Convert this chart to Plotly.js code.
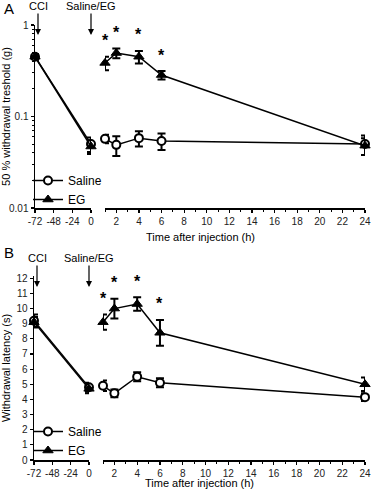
<!DOCTYPE html>
<html>
<head>
<meta charset="utf-8">
<script src="https://cdn.plot.ly/plotly-3.0.1.min.js"></script>
<style>html,body{margin:0;padding:0;background:#fff;}#chart{width:373px;height:499px;}</style>
</head>
<body>
<div id="chart"></div>
<script>
// ---- data ----
const times = [-72, 0, 1, 2, 4, 6, 24];
const salineA = [0.45, 0.050, 0.057, 0.049, 0.058, 0.054, 0.050];
const salineAErr = [0.03, 0.009, 0.006, 0.012, 0.011, 0.011, 0.012];
const egA = [0.45, 0.047, 0.385, 0.494, 0.45, 0.284, 0.048];
const egAErr = [0.03, 0.008, 0.065, 0.06, 0.07, 0.03, 0.01];
const salineB = [9.2, 4.8, 4.9, 4.4, 5.5, 5.1, 4.15];
const salineBErr = [0.4, 0.3, 0.35, 0.25, 0.3, 0.3, 0.25];
const egB = [9.1, 4.7, 9.1, 10.0, 10.3, 8.4, 5.0];
const egBErr = [0.35, 0.3, 0.5, 0.65, 0.45, 0.85, 0.45];
const sigTimes = [1, 2, 4, 6];
const leftTicks = [-72, -48, -24, 0];
const rightTicks = [2, 4, 6, 8, 10, 12, 14, 16, 18, 20, 22, 24];
const logTicks = [0.01, 0.1, 1];
const logTickText = ['0.01', '0.1', '1'];
const logMinor = [0.02,0.03,0.04,0.05,0.06,0.07,0.08,0.09,0.2,0.3,0.4,0.5,0.6,0.7,0.8,0.9];
const seriesNames = ['Saline', 'EG'];

const W = 373, H = 499;
const px = v => v / W;
const py = v => 1 - v / H;

function pick(arr, left) {
  return arr.filter((_, i) => left ? times[i] <= 0 : times[i] > 0);
}
const salineMarker = {symbol: 'circle', size: 8, color: 'white', line: {color: 'black', width: 2}};
const egMarker = {symbol: 'triangle-up', size: 9, color: 'black', line: {color: 'black', width: 1}};

function makeTraces(vals, errs, name, marker, xl, xr, ya, legend, order) {
  const base = {
    type: 'scatter', mode: 'lines+markers', name: name, cliponaxis: false,
    line: {color: 'black', width: 1.5}, marker: marker, legend: legend, legendrank: order
  };
  return [
    Object.assign({}, base, {x: pick(times, true), y: pick(vals, true), xaxis: xl, yaxis: ya, showlegend: false,
      error_y: {type: 'data', array: pick(errs, true), color: 'black', thickness: 2, width: 4}}),
    Object.assign({}, base, {x: pick(times, false), y: pick(vals, false), xaxis: xr, yaxis: ya, showlegend: true,
      error_y: {type: 'data', array: pick(errs, false), color: 'black', thickness: 2, width: 4}})
  ];
}

const data = [].concat(
  makeTraces(salineA, salineAErr, seriesNames[0], salineMarker, 'x', 'x2', 'y', 'legend', 1),
  makeTraces(egA, egAErr, seriesNames[1], egMarker, 'x', 'x2', 'y', 'legend', 2),
  makeTraces(salineB, salineBErr, seriesNames[0], salineMarker, 'x3', 'x4', 'y2', 'legend2', 1),
  makeTraces(egB, egBErr, seriesNames[1], egMarker, 'x3', 'x4', 'y2', 'legend2', 2)
);

const tickFont = {family: 'Liberation Sans, Arial, sans-serif', size: 10, color: '#222'};
const axBase = {showline: true, linecolor: 'black', linewidth: 1.5, ticks: 'outside', ticklen: 3,
  tickwidth: 1.2, tickcolor: 'black', showgrid: false, zeroline: false, tickfont: tickFont,
  automargin: false, fixedrange: true};

function leftX(domain, anchor) {
  return Object.assign({}, axBase, {domain: domain, anchor: anchor, range: [-72, 0],
    tickmode: 'array', tickvals: leftTicks, ticktext: leftTicks.map(String)});
}
function rightX(domain, anchor) {
  return Object.assign({}, axBase, {domain: domain, anchor: anchor, range: [1, 24],
    tickmode: 'array', tickvals: rightTicks, ticktext: rightTicks.map(String),
    minor: {dtick: 1, tick0: 0, ticks: 'outside', ticklen: 2, tickwidth: 1, tickcolor: 'black'}});
}

const annFont = {family: 'Liberation Sans, Arial, sans-serif', size: 11, color: 'black'};
const starFont = {family: 'Liberation Sans, Arial, sans-serif', size: 16, color: '#000000', weight: 'bold'};
const annotations = [];
// panel letters
annotations.push({text: 'A', x: px(2), y: py(8), xref: 'paper', yref: 'paper', xanchor: 'left', yanchor: 'middle', showarrow: false, font: {family: 'Liberation Sans, Arial', size: 15, color: 'black'}});
annotations.push({text: 'B', x: px(2), y: py(253), xref: 'paper', yref: 'paper', xanchor: 'left', yanchor: 'middle', showarrow: false, font: {family: 'Liberation Sans, Arial', size: 15, color: 'black'}});
// arrows
function arrow(text, xval, xref, tipY) {
  return {text: text, x: xval, xref: xref, y: py(tipY), yref: 'paper', xshift: xval === -72 ? 3 : 0,
    showarrow: true, ax: 0, ay: -29, arrowhead: 2, arrowsize: 1, arrowwidth: 1.2, arrowcolor: 'black', font: annFont};
}
annotations.push(arrow('CCI', -72, 'x', 35));
annotations.push(arrow('Saline/EG', 0, 'x', 35));
annotations.push(arrow('CCI', -72, 'x3', 287));
annotations.push(arrow('Saline/EG', 0, 'x3', 287));
// asterisks
sigTimes.forEach(t => {
  const i = times.indexOf(t);
  annotations.push({text: '*', x: t, xref: 'x2', y: Math.log10(egA[i] + egAErr[i]), yref: 'y', showarrow: false, yshift: 16, font: starFont});
  annotations.push({text: '*', x: t, xref: 'x4', y: egB[i] + egBErr[i], yref: 'y2', showarrow: false, yshift: 16, font: starFont});
});
// x titles
annotations.push({text: 'Time after injection (h)', x: px(200), y: py(237), xref: 'paper', yref: 'paper', showarrow: false, font: annFont});
annotations.push({text: 'Time after injection (h)', x: px(199), y: py(491), xref: 'paper', yref: 'paper', showarrow: false, font: annFont});

const legFont = {family: 'Liberation Sans, Arial, sans-serif', size: 12, color: 'black'};
const layout = {
  width: W, height: H, margin: {l: 0, r: 0, t: 0, b: 0},
  paper_bgcolor: 'white', plot_bgcolor: 'white',
  font: {family: 'Liberation Sans, Arial, sans-serif', color: 'black'},
  xaxis: leftX([px(35), px(91)], 'y'),
  xaxis2: rightX([px(105), px(365)], 'y'),
  xaxis3: leftX([px(34), px(89)], 'y2'),
  xaxis4: rightX([px(103), px(365)], 'y2'),
  yaxis: Object.assign({}, axBase, {domain: [py(208), py(25)], anchor: 'x', type: 'log', range: [-2, 0],
    tickmode: 'array', tickvals: logTicks, ticktext: logTickText,
    minor: {tickmode: 'array', tickvals: logMinor, ticks: 'outside', ticklen: 2, tickwidth: 1, tickcolor: 'black'},
    title: {text: '50 % withdrawal treshold (g)', font: annFont, standoff: 5}}),
  yaxis2: Object.assign({}, axBase, {domain: [py(460), py(276)], anchor: 'x3', range: [0, 12.15],
    tickmode: 'array', tickvals: [0,1,2,3,4,5,6,7,8,9,10,11,12],
    title: {text: 'Withdrawal latency (s)', font: annFont, standoff: 5}}),
  legend: {x: px(28), y: py(190), xanchor: 'left', yanchor: 'middle', font: legFont, bgcolor: 'rgba(0,0,0,0)', traceorder: 'normal', itemwidth: 30},
  legend2: {x: px(28), y: py(441), xanchor: 'left', yanchor: 'middle', font: legFont, bgcolor: 'rgba(0,0,0,0)', traceorder: 'normal', itemwidth: 30},
  annotations: annotations,
  showlegend: true
};

Plotly.newPlot('chart', data, layout, {displayModeBar: false, staticPlot: true});
</script>
</body>
</html>
